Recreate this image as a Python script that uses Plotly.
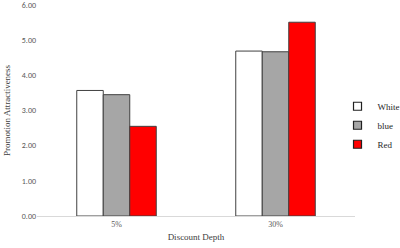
import plotly.graph_objects as go

categories = ["5%", "30%"]
white_vals = [3.57, 4.69]
blue_vals = [3.45, 4.67]
red_vals = [2.55, 5.51]
series_names = ["White", "blue", "Red"]
colors = ["#FFFFFF", "#A6A6A6", "#FF0000"]
y_ticks = [0, 1, 2, 3, 4, 5, 6]
y_tick_labels = ["0.00", "1.00", "2.00", "3.00", "4.00", "5.00", "6.00"]

fig = go.Figure()
for name, vals, col in zip(series_names, [white_vals, blue_vals, red_vals], colors):
    fig.add_trace(go.Bar(
        x=categories, y=vals, name=name, showlegend=False,
        marker=dict(color=col, line=dict(color="#404040", width=1)),
    ))
# legend entries with small square markers
for name, col in zip(series_names, colors):
    fig.add_trace(go.Scatter(
        x=[None], y=[None], mode="markers", name=name,
        marker=dict(symbol="square", size=8, color=col, line=dict(color="#202020", width=1.2)),
    ))

fig.update_layout(
    width=400, height=248,
    margin=dict(l=37, r=45, t=5, b=32, autoexpand=False),
    paper_bgcolor="white", plot_bgcolor="white",
    barmode="group", bargap=0.5, bargroupgap=0,
    showlegend=True,
    legend=dict(x=0.945, y=0.43, xanchor="left", yanchor="middle",
                bgcolor="rgba(0,0,0,0)",
                font=dict(family="Liberation Serif", size=9, color="#262626"),
                tracegroupgap=0, itemwidth=30),
    font=dict(family="Liberation Serif", size=9, color="#404040"),
)
fig.update_xaxes(
    showline=True, linecolor="#D9D9D9", linewidth=1, automargin=False,
    ticks="", tickfont=dict(family="Liberation Serif", size=8, color="#595959"),
    title=dict(text="Discount Depth", font=dict(family="Liberation Serif", size=9, color="#404040"), standoff=6),
)
fig.update_yaxes(
    range=[0, 6], tickvals=y_ticks, ticktext=y_tick_labels, automargin=False,
    ticklabeloverflow="allow",
    showgrid=False, zeroline=False, showline=False,
    tickfont=dict(family="Carlito, Liberation Sans", size=8, color="#595959"),
    title=dict(text="Promotion Attractiveness", font=dict(family="Liberation Serif", size=9, color="#404040"), standoff=9),
)
fig.write_html("out.html", config={"displayModeBar": False},
               post_script="document.body.style.margin='0';document.body.style.overflow='hidden';")
